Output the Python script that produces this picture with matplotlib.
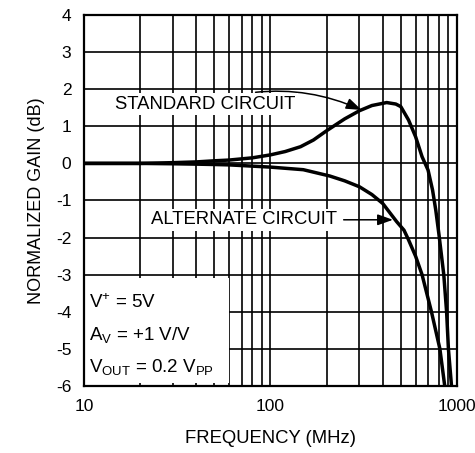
import numpy as np
import matplotlib.pyplot as plt
from matplotlib.patches import Rectangle

plt.rcParams['font.family'] = ['Liberation Sans', 'DejaVu Sans']
plt.rcParams['mathtext.fontset'] = 'custom'
plt.rcParams['mathtext.rm'] = 'Liberation Sans'
plt.rcParams['mathtext.default'] = 'regular'
plt.rcParams['axes.unicode_minus'] = False

# valores (MHz, dB)
freq_std = [10, 20, 30, 40, 50, 60, 80, 100, 120, 145, 170, 200, 250, 300, 350, 420, 470, 500,
            550, 600, 650, 700, 740, 770, 800, 850, 880, 900, 935]
gain_std = [0.0, 0.0, 0.02, 0.04, 0.07, 0.09, 0.15, 0.23, 0.32, 0.45, 0.63, 0.88, 1.2, 1.42, 1.56, 1.64, 1.6, 1.53,
            1.17, 0.72, 0.18, -0.18, -0.72, -1.26, -1.9, -3.0, -4.0, -5.0, -6.0]

freq_alt = [10, 20, 30, 40, 50, 60, 100, 150, 208, 250, 300, 350, 400, 475, 520, 550, 600, 650, 730, 810, 860]
gain_alt = [0.0, 0.0, -0.01, -0.02, -0.03, -0.04, -0.1, -0.17, -0.34, -0.47, -0.63, -0.84, -1.08, -1.57, -1.8, -2.06, -2.5, -3.0, -4.0, -5.0, -6.0]

x_ticks = [10, 100, 1000]
x_labels = ['10', '100', '1000']
y_ticks = [-6, -5, -4, -3, -2, -1, 0, 1, 2, 3, 4]

fig = plt.figure(figsize=(4.75, 4.53), dpi=100)
ax = fig.add_axes([0.1768, 0.1479, 0.7852, 0.819])

ax.set_xscale('log')
ax.set_xlim(10, 1000)
ax.set_ylim(-6, 4)

# rejilla mayor y menor
ax.set_axisbelow(True)
ax.grid(True, which='both', color='black', linewidth=1.2)
ax.set_xticks(x_ticks)
ax.set_xticklabels(x_labels)
ax.set_yticks(y_ticks)
ax.tick_params(which='both', length=0, labelsize=12.5)
ax.tick_params(axis='y', pad=9)
ax.tick_params(axis='x', pad=9)

for s in ax.spines.values():
    s.set_linewidth(1.6)

# caja blanca de condiciones
ax.add_patch(Rectangle((10, -5.92), 50, 2.84, facecolor='white', edgecolor='none', zorder=1.5))

ax.plot(freq_std, gain_std, color='black', linewidth=2.5, solid_capstyle='butt', zorder=3)
ax.plot(freq_alt, gain_alt, color='black', linewidth=2.5, solid_capstyle='butt', zorder=3)

caja = dict(facecolor='white', edgecolor='none', pad=2)
flecha = dict(arrowstyle='-|>,head_length=0.7,head_width=0.25', color='black', lw=1.1, shrinkA=3, shrinkB=0)

ax.annotate('STANDARD CIRCUIT', xy=(308, 1.44), xytext=(14.6, 1.6),
            fontsize=13.3, va='center', ha='left', bbox=caja, zorder=2,
            arrowprops=dict(flecha, connectionstyle='arc3,rad=-0.2'))
ax.annotate('ALTERNATE CIRCUIT', xy=(454, -1.52), xytext=(22.8, -1.52),
            fontsize=13.3, va='center', ha='left', bbox=caja, zorder=2,
            arrowprops=flecha)

ax.text(10.6, -3.75, r'V$^{+}$ = 5V', fontsize=13.5, va='center', ha='left', zorder=4)
ax.text(10.6, -4.62, r'A$_{V}$ = +1 V/V', fontsize=13.5, va='center', ha='left', zorder=4)
ax.text(10.6, -5.48, r'V$_{OUT}$ = 0.2 V$_{PP}$', fontsize=13.5, va='center', ha='left', zorder=4)

ax.set_xlabel('FREQUENCY (MHz)', fontsize=13.3, labelpad=12)
ax.set_ylabel('NORMALIZED GAIN (dB)', fontsize=13, labelpad=8)

fig.savefig('out.png', dpi=100)
